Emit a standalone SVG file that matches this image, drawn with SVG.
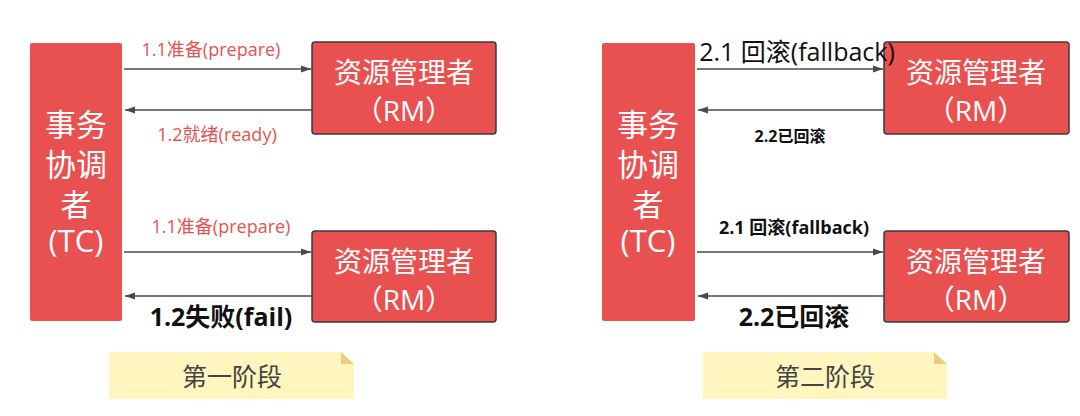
<svg xmlns="http://www.w3.org/2000/svg" width="1080" height="416" viewBox="0 0 1080 416">
<style>
text{font-family:"Open Sans","Noto Sans CJK SC",sans-serif;text-anchor:middle}
.tc{fill:#E85150}
.rm{fill:#E85150;stroke:#3a3a3a;stroke-width:1.5}
.wt{fill:#fff;font-size:28px}
.wt2{fill:#fff;font-size:31px}
.conn{stroke:#4a4a4a;stroke-width:1.6;fill:none}
.red{fill:#E8524E;font-size:18px}
.note{fill:#FFF5BE}
.fold{fill:#E8CF80}
.nt{fill:#444;font-size:25px}
.b{font-weight:bold;fill:#111}
</style>
<defs>
<marker id="ah" viewBox="0 0 10 10" refX="10" refY="5" markerWidth="10" markerHeight="10" markerUnits="userSpaceOnUse" orient="auto">
<path d="M0,1.5 L10,5 L0,8.5 Z" fill="#4a4a4a"/>
</marker>
</defs>
<g id="tc1"><rect class="tc" x="30" y="43" width="92" height="278" rx="2"/>
<text class="wt2"><tspan x="76" y="136">事务</tspan><tspan x="76" y="176">协调</tspan><tspan x="76" y="216">者</tspan><tspan x="76" y="252">(TC)</tspan></text></g>
<g id="rm1"><rect class="rm" x="312" y="42" width="184" height="92" rx="3"/>
<text class="wt"><tspan x="404" y="83">资源管理者</tspan><tspan x="404" y="121">（RM）</tspan></text></g>
<g id="rm2"><rect class="rm" x="312" y="231" width="184" height="91" rx="3"/>
<text class="wt"><tspan x="404" y="272">资源管理者</tspan><tspan x="404" y="310">（RM）</tspan></text></g>
<g id="tc2"><rect class="tc" x="602" y="43" width="93" height="278" rx="2"/>
<text class="wt2"><tspan x="648" y="136">事务</tspan><tspan x="648" y="176">协调</tspan><tspan x="648" y="216">者</tspan><tspan x="648" y="252">(TC)</tspan></text></g>
<g id="rm3"><rect class="rm" x="884" y="42" width="185" height="92" rx="3"/>
<text class="wt"><tspan x="976" y="83">资源管理者</tspan><tspan x="976" y="121">（RM）</tspan></text></g>
<g id="rm4"><rect class="rm" x="884" y="231" width="185" height="91" rx="3"/>
<text class="wt"><tspan x="976" y="272">资源管理者</tspan><tspan x="976" y="310">（RM）</tspan></text></g>
<g id="connectors">
<line class="conn" x1="124" y1="69" x2="311" y2="69" marker-end="url(#ah)"/>
<line class="conn" x1="312" y1="110" x2="125" y2="110" marker-end="url(#ah)"/>
<line class="conn" x1="124" y1="252" x2="311" y2="252" marker-end="url(#ah)"/>
<line class="conn" x1="312" y1="296" x2="125" y2="296" marker-end="url(#ah)"/>
<line class="conn" x1="697" y1="69" x2="883" y2="69" marker-end="url(#ah)"/>
<line class="conn" x1="884" y1="110" x2="698" y2="110" marker-end="url(#ah)"/>
<line class="conn" x1="697" y1="252" x2="883" y2="252" marker-end="url(#ah)"/>
<line class="conn" x1="884" y1="296" x2="698" y2="296" marker-end="url(#ah)"/>
</g>
<g id="labels">
<text class="red" x="211" y="56">1.1准备(prepare)</text>
<text class="red" x="217" y="141">1.2就绪(ready)</text>
<text class="red" x="221" y="233">1.1准备(prepare)</text>
<text class="b" x="221" y="326" style="font-size:25px">1.2失败(fail)</text>
<text x="797" y="61" style="font-size:25px;fill:#111">2.1 回滚(fallback)</text>
<text class="b" x="790" y="142" style="font-size:16px">2.2已回滚</text>
<text class="b" x="794" y="234" style="font-size:18px">2.1 回滚(fallback)</text>
<text class="b" x="794" y="326" style="font-size:25px">2.2已回滚</text>
</g>
<g id="note1"><path class="note" d="M109,352 H341 L354,364 V399 H109 Z"/><path class="fold" d="M341,352 L354,364 H341 Z"/>
<text class="nt" x="232" y="386">第一阶段</text></g>
<g id="note2"><path class="note" d="M703,352 H934 L947,364 V399 H703 Z"/><path class="fold" d="M934,352 L947,364 H934 Z"/>
<text class="nt" x="825" y="386">第二阶段</text></g>
</svg>
